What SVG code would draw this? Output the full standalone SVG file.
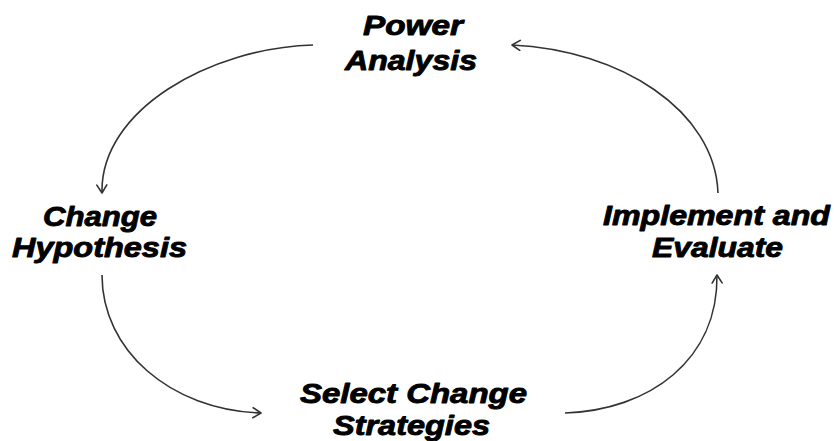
<svg xmlns="http://www.w3.org/2000/svg" width="834" height="441" viewBox="0 0 834 441">
  <style>
    .lbl { font-family: "Liberation Sans", Arial, sans-serif; font-weight: bold; font-style: italic; font-size: 27.5px; fill: #000; stroke: #000; stroke-width: 0.9; stroke-linejoin: round; }
    .flow { fill: none; stroke: #333; stroke-width: 1.6; marker-end: url(#open); }
  </style>
  <defs>
    <marker id="open" viewBox="0 0 12 12" refX="10" refY="6" markerWidth="12" markerHeight="12" markerUnits="userSpaceOnUse" orient="auto">
      <path d="M2,1 L10,6 L2,11" fill="none" stroke="#333" stroke-width="1.6" stroke-linecap="round" stroke-linejoin="round"/>
    </marker>
  </defs>
  <rect width="834" height="441" fill="#fff"/>

  <g id="connectors">
    <path class="flow" d="M313,45 C210,48 100,110 102,193"/>
    <path class="flow" d="M102,275 C102,350 170,410 261,413"/>
    <path class="flow" d="M565,413 C650,410 718,360 717,275"/>
    <path class="flow" d="M718,193 C715,110 620,50 512,45"/>
  </g>

  <g id="power-analysis">
    <text class="lbl" x="363" y="35" textLength="100" lengthAdjust="spacingAndGlyphs">Power</text>
    <text class="lbl" x="345" y="70" textLength="132" lengthAdjust="spacingAndGlyphs">Analysis</text>
  </g>
  <g id="change-hypothesis">
    <text class="lbl" x="43" y="226" textLength="114" lengthAdjust="spacingAndGlyphs">Change</text>
    <text class="lbl" x="12" y="257" textLength="175" lengthAdjust="spacingAndGlyphs">Hypothesis</text>
  </g>
  <g id="select-change-strategies">
    <text class="lbl" x="300" y="403" textLength="227" lengthAdjust="spacingAndGlyphs">Select Change</text>
    <text class="lbl" x="333" y="435" textLength="157" lengthAdjust="spacingAndGlyphs">Strategies</text>
  </g>
  <g id="implement-evaluate">
    <text class="lbl" x="603" y="225" textLength="227" lengthAdjust="spacingAndGlyphs">Implement and</text>
    <text class="lbl" x="652" y="257" textLength="131" lengthAdjust="spacingAndGlyphs">Evaluate</text>
  </g>
</svg>
